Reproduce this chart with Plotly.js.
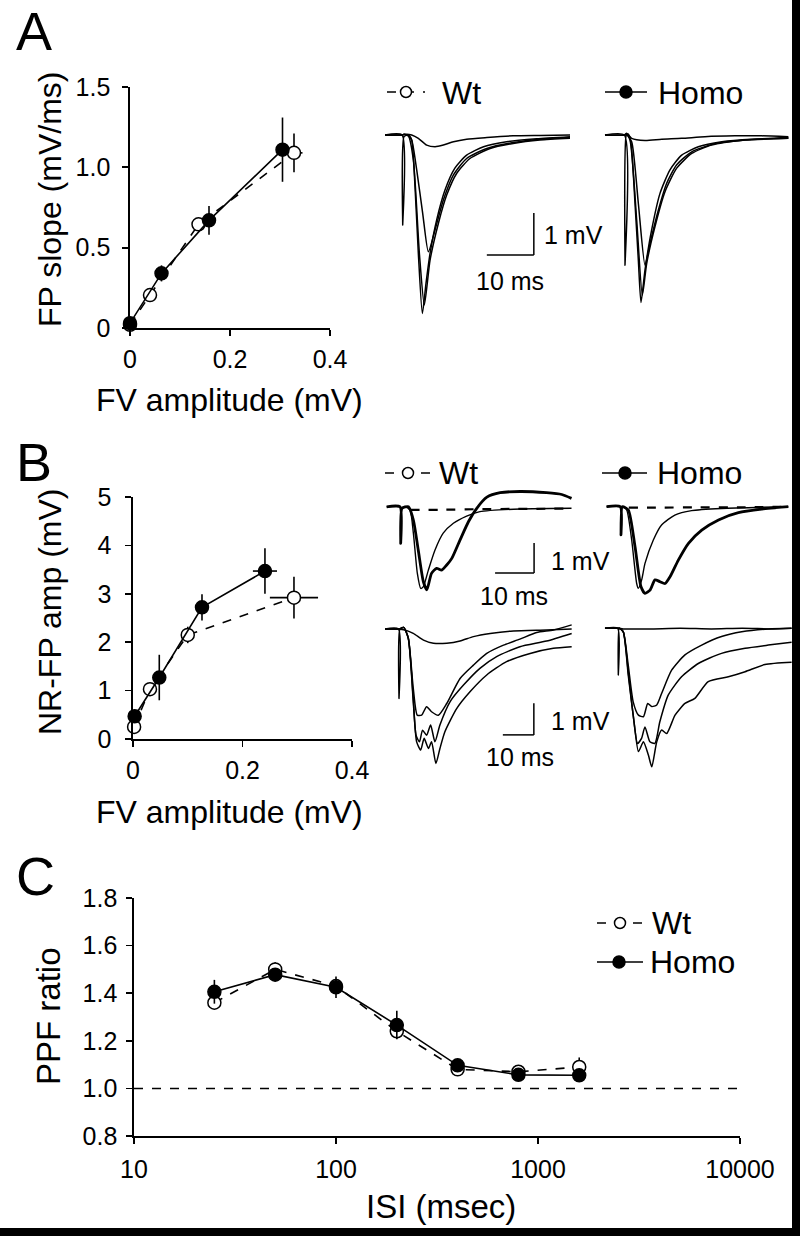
<!DOCTYPE html>
<html><head><meta charset="utf-8">
<script src="https://cdn.plot.ly/plotly-3.0.1.min.js"></script>
<style>html,body{margin:0;padding:0;background:#fff}#chart{width:800px;height:1236px}</style>
</head><body><div id="chart"></div>
<script>
// ---------------- DATA ----------------
// Panel A: FP slope vs FV amplitude
const aWtX = [0, 0.04, 0.137, 0.328];
const aWtY = [0.02, 0.205, 0.645, 1.09];
const aWtEx = [0, 0.005, 0.008, 0.017];
const aWtEy = [0, 0.02, 0.04, 0.12];
const aHoX = [0, 0.063, 0.158, 0.305];
const aHoY = [0.03, 0.34, 0.67, 1.11];
const aHoEx = [0.003, 0.008, 0.012, 0.01];
const aHoEy = [0.01, 0.05, 0.09, 0.2];

// Panel B: NR-FP amp vs FV amplitude
const bWtX = [0.002, 0.031, 0.1, 0.294];
const bWtY = [0.25, 1.03, 2.15, 2.92];
const bWtEx = [0.002, 0.004, 0.008, 0.044];
const bWtEy = [0.05, 0.12, 0.17, 0.43];
const bHoX = [0.003, 0.048, 0.126, 0.241];
const bHoY = [0.47, 1.27, 2.72, 3.47];
const bHoEx = [0.002, 0.006, 0.008, 0.022];
const bHoEy = [0.06, 0.47, 0.27, 0.47];

// Panel C: PPF ratio vs ISI
const isi = [25, 50, 100, 200, 400, 800, 1600];
const cWtY = [1.36, 1.50, 1.43, 1.24, 1.08, 1.07, 1.09];
const cWtE = [0.02, 0.03, 0.03, 0.03, 0.02, 0.02, 0.04];
const cHoY = [1.406, 1.478, 1.425, 1.266, 1.097, 1.057, 1.055];
const cHoE = [0.05, 0.02, 0.045, 0.06, 0.02, 0.02, 0.02];

// Sample traces (time in ms, voltage in mV)
// Panel A, Wt
const aWtBigT = [-3.76, -0.14, 0, 0.28, 1.21, 1.91, 2.62, 3.33, 4.18, 4.96, 5.82, 7.23, 9.0, 11.1, 13.6, 17.2, 22.1, 28.5, 35.6];
const aWtBigV = [0, 0, -2.14, -0.04, 0, -0.12, -1.23, -2.82, -4.25, -3.53, -2.82, -2.02, -1.31, -0.79, -0.48, -0.28, -0.16, -0.09, -0.04];
const aWtBig2T = [-3.76, -0.14, 0.3, 1.2, 2.27, 3.55, 4.6, 5.82, 7.6, 9.36, 11.5, 14.3, 18.6, 23.5, 29.2, 35.6];
const aWtBig2V = [0, 0, 0.02, -0.02, -0.6, -2.82, -4.05, -2.98, -2.1, -1.43, -0.91, -0.56, -0.32, -0.2, -0.12, -0.08];
const aWtMidT = [-3.76, -0.14, 0.3, 1.2, 1.91, 2.98, 4.26, 5.46, 6.88, 8.65, 10.8, 13.6, 17.9, 23.5, 29.2, 35.6];
const aWtMidV = [0, 0, 0.02, -0.02, -0.12, -0.83, -1.87, -2.78, -2.26, -1.55, -0.95, -0.56, -0.32, -0.18, -0.1, -0.06];
const aWtSmallT = [-3.76, -0.14, 0.85, 1.91, 3.33, 5.1, 6.88, 8.65, 10.8, 13.6, 17.9, 23.5, 29.2, 35.6];
const aWtSmallV = [0, 0, 0.02, 0, -0.08, -0.24, -0.28, -0.24, -0.16, -0.1, -0.06, -0.02, -0.01, 0];
// Panel A, Homo
const aHoBigT = [-4.26, -0.14, 0, 0.28, 0.71, 1.28, 2.13, 2.84, 3.4, 4.26, 5.67, 7.45, 9.57, 12.06, 15.6, 20.6, 26.95, 34.75];
const aHoBigV = [0, 0, -3.1, 0, 0.02, -0.2, -1.63, -2.98, -3.99, -3.21, -2.26, -1.39, -0.83, -0.48, -0.28, -0.16, -0.1, -0.08];
const aHoBig2T = [-4.26, -0.14, 0.3, 1.06, 2.48, 3.69, 4.61, 6.38, 8.51, 11.0, 14.2, 18.4, 25.5, 34.75];
const aHoBig2V = [0, 0, 0.02, -0.12, -2.02, -3.81, -3.06, -2.18, -1.35, -0.79, -0.44, -0.24, -0.12, -0.06];
const aHoMidT = [-4.26, -0.14, 0.3, 1.42, 2.84, 4.26, 5.32, 7.09, 8.87, 11.0, 14.2, 19.1, 25.5, 34.75];
const aHoMidV = [0, 0, 0.02, -0.16, -1.63, -3.1, -2.58, -1.79, -1.15, -0.71, -0.4, -0.21, -0.12, -0.08];
const aHoSmallT = [-4.26, -0.14, 0.35, 1.42, 4.26, 7.8, 12.06, 17.0, 23.4, 29.1, 34.75];
const aHoSmallV = [0, 0, 0.04, -0.08, -0.13, -0.1, -0.08, -0.04, -0.02, -0.02, -0.04];
// Panel B upper, Wt
const bWtThickT = [-3.6, -0.17, 0, 0.34, 2.0, 3.25, 4.5, 5.8, 6.7, 7.9, 9.2, 10.5, 11.8, 13.1, 15.2, 17.4, 19.5, 22.1, 25.5, 30.6, 37.4, 41.3, 43.8];
const bWtThickV = [0.05, 0.05, -1.17, 0, 0.05, -0.39, -1.39, -2.44, -2.72, -2.17, -2.0, -2.06, -1.89, -1.67, -1.06, -0.44, 0, 0.37, 0.52, 0.56, 0.52, 0.46, 0.33];
const bWtThinT = [-3.6, -0.17, 0.3, 1.1, 2.4, 3.25, 4.27, 5.13, 5.81, 7.09, 8.8, 10.9, 13.5, 16.9, 20.3, 28.9, 43.8];
const bWtThinV = [0.05, 0.05, 0, 0.06, -0.06, -0.83, -2.17, -2.67, -2.61, -2.06, -1.39, -0.83, -0.5, -0.26, -0.11, -0.03, 0];
const bWtApvT = [2.5, 10, 20, 30, 43.8];
const bWtApvV = [-0.05, -0.05, -0.03, -0.02, -0.01];
// Panel B upper, Homo
const bHoThinT = [-3.7, -0.17, 0, 0.34, 1.45, 2.74, 4.02, 4.44, 5.3, 6.15, 8.29, 10.4, 13.8, 18.1, 25.8, 42.9];
const bHoThinV = [0, 0, -0.94, 0, -0.11, -1.11, -2.56, -2.72, -2.44, -1.89, -1.11, -0.61, -0.28, -0.13, -0.06, 0];
const bHoThickT = [-3.7, -0.17, 0, 0.34, 1.88, 3.59, 5.13, 6.15, 7.44, 8.72, 10.0, 11.3, 12.6, 14.7, 17.3, 20.7, 25.0, 30.1, 36.1, 42.9];
const bHoThickV = [0, 0, -0.94, 0, -0.11, -1.33, -2.67, -2.89, -2.78, -2.44, -2.5, -2.56, -2.33, -1.78, -1.22, -0.78, -0.44, -0.2, -0.08, 0];
const bHoApvT = [2.0, 10, 20, 30, 42.9];
const bHoApvV = [-0.03, -0.03, -0.02, -0.02, 0];
// Panel B lower, Wt
const dWtSmallT = [-4.5, -0.2, 1.9, 4.6, 7.9, 11.1, 15.4, 19.7, 24.0, 29.4, 36.9, 47.6, 55.7];
const dWtSmallV = [0, 0, -0.03, -0.14, -0.35, -0.45, -0.45, -0.38, -0.24, -0.14, -0.06, -0.03, 0];
const dWt1T = [-4.5, -0.2, 0, 0.3, 1.5, 3.0, 4.6, 5.9, 7.3, 8.9, 10.5, 12.7, 15.4, 19.7, 24.0, 28.3, 33.7, 39.0, 44.4, 49.8, 55.7];
const dWt1V = [0, 0, -2.19, 0, 0.05, -0.29, -1.87, -2.72, -2.72, -2.45, -2.61, -2.72, -2.35, -1.56, -1.14, -0.77, -0.51, -0.32, -0.11, -0.03, 0.13];
const dWt2T = [-4.5, -0.2, 0.3, 1.5, 3.0, 4.6, 5.5, 6.6, 7.6, 8.9, 10.2, 11.6, 13.2, 16.5, 20.8, 26.1, 31.5, 39.0, 47.6, 55.7];
const dWt2V = [0, 0, 0, 0.05, -0.29, -2.19, -3.35, -3.56, -3.19, -3.35, -3.03, -3.56, -3.03, -2.29, -1.77, -1.24, -0.87, -0.56, -0.38, -0.14];
const dWt3T = [-4.5, -0.2, 0.3, 1.5, 3.0, 4.6, 5.7, 7.0, 8.1, 9.5, 10.5, 11.9, 13.2, 14.8, 18.6, 22.9, 28.3, 34.7, 42.3, 49.8, 55.7];
const dWt3V = [0, 0, 0, 0.05, -0.29, -2.29, -3.56, -3.82, -3.45, -3.77, -3.56, -4.24, -3.77, -3.24, -2.51, -1.98, -1.45, -1.03, -0.77, -0.61, -0.56];
// Panel B lower, Homo
const dHoSmallT = [-4.3, -0.2, 1.6, 10, 20, 30, 40, 50, 55.9];
const dHoSmallV = [0, 0, -0.02, -0.02, 0, -0.02, 0, -0.02, 0];
const dHo1T = [-4.3, -0.2, 0, 0.3, 1.6, 3.2, 4.8, 6.5, 8.1, 9.5, 10.8, 12.4, 14.0, 17.2, 21.5, 26.9, 33.3, 39.8, 48.4, 55.9];
const dHo1V = [0, 0, -1.47, 0, -0.11, -1.16, -2.32, -2.74, -2.79, -2.37, -2.47, -2.42, -2.05, -1.32, -0.84, -0.53, -0.26, -0.11, -0.02, 0];
const dHo2T = [-4.3, -0.2, 0.3, 1.6, 3.2, 4.8, 6.2, 7.5, 8.6, 10.2, 11.8, 13.4, 16.1, 20.4, 25.8, 33.3, 40.9, 48.4, 55.9];
const dHo2V = [0, 0, 0, -0.11, -1.37, -2.74, -3.63, -3.47, -3.11, -3.58, -3.63, -2.95, -2.11, -1.53, -1.11, -0.79, -0.63, -0.53, -0.44];
const dHo3T = [-4.3, -0.2, 0.3, 1.6, 3.2, 5.2, 6.5, 8.1, 9.7, 10.8, 12.4, 14.0, 15.6, 18.3, 21.5, 24.7, 29.0, 35.5, 40.9, 47.3, 55.9];
const dHo3V = [0, 0, 0, -0.11, -1.47, -3.05, -3.89, -3.58, -4.0, -4.37, -3.58, -3.21, -3.32, -2.74, -2.37, -2.21, -1.68, -1.53, -1.37, -1.14, -1.07];

// Scale bar sizes
const barMs = 10, barMv = 1;

// ---------------- LAYOUT HELPERS ----------------
const W = 800, H = 1236;
const FONT = 'Liberation Sans, Arial, Helvetica, sans-serif';
const px = x => x / W;
const py = y => 1 - y / H;

function sciAxis(p0, p1, range, tickvals, ticktext, isX, extra) {
  return Object.assign({
    domain: isX ? [px(p0), px(p1)] : [py(p1), py(p0)],
    range: range, tickvals: tickvals, ticktext: ticktext,
    showline: true, linewidth: 1.7, linecolor: '#000',
    ticks: 'outside', ticklen: 6, tickwidth: 1.7, tickcolor: '#000',
    showgrid: false, zeroline: false, fixedrange: true,
    tickfont: {family: FONT, size: 25, color: '#000'},
    ticklabelstandoff: 2
  }, extra || {});
}
// trace panel: pixel box, origin pixel (artifact, baseline), pixels per ms, pixels per mV
function tracePanel(x0, x1, y0, y1, ox, oy, pms, pmv) {
  return {
    x: {domain: [px(x0), px(x1)], range: [(x0 - ox) / pms, (x1 - ox) / pms], visible: false, fixedrange: true},
    y: {domain: [py(y1), py(y0)], range: [-(y1 - oy) / pmv, -(y0 - oy) / pmv], visible: false, fixedrange: true}
  };
}
const panels = [
  tracePanel(383, 580, 120, 322, 402.7, 135, 4.7, 42),     // A Wt   -> x4
  tracePanel(603, 792, 120, 322, 625, 135, 4.7, 42),       // A Homo -> x5
  tracePanel(383, 580, 484, 602, 400.7, 508.3, 3.9, 30),   // B up Wt -> x6
  tracePanel(603, 792, 484, 602, 621, 506.7, 3.9, 30),     // B up Homo -> x7
  tracePanel(383, 580, 618, 776, 399, 629, 3.1, 31.7),     // B low Wt -> x8
  tracePanel(603, 795, 618, 776, 618.3, 628.3, 3.1, 31.7)  // B low Homo -> x9
];

// ---------------- TRACES ----------------
const data = [];
function sci(x, y, ex, ey, filled, ax, size) {
  const t = {
    x: x, y: y, type: 'scatter', mode: 'lines+markers', xaxis: 'x' + ax, yaxis: 'y' + ax,
    cliponaxis: false, showlegend: false,
    line: {color: '#000', width: 1.6, dash: filled ? 'solid' : 'dash'},
    marker: {size: size, color: filled ? '#000' : '#fff', line: {color: '#000', width: 1.5}},
    error_y: {type: 'data', array: ey, visible: true, color: '#000', thickness: 1.6, width: 0}
  };
  if (ex) t.error_x = {type: 'data', array: ex, visible: true, color: '#000', thickness: 1.6, width: 0};
  return t;
}
data.push(sci(aWtX, aWtY, aWtEx, aWtEy, false, '', 13));
data.push(sci(aHoX, aHoY, aHoEx, aHoEy, true, '', 13));
data.push(sci(bWtX, bWtY, bWtEx, bWtEy, false, '2', 13));
data.push(sci(bHoX, bHoY, bHoEx, bHoEy, true, '2', 13));
data.push(sci(isi, cWtY, null, cWtE, false, '3', 13));
data.push(sci(isi, cHoY, null, cHoE, true, '3', 13));

function rec(t, v, ax, width, dash) {
  return {x: t, y: v, type: 'scatter', mode: 'lines', xaxis: 'x' + ax, yaxis: 'y' + ax,
    showlegend: false, hoverinfo: 'skip', cliponaxis: false,
    line: {color: '#000', width: width, dash: dash || 'solid', shape: 'spline', smoothing: 0.6}};
}
[[aWtSmallT, aWtSmallV], [aWtMidT, aWtMidV], [aWtBig2T, aWtBig2V], [aWtBigT, aWtBigV]]
  .forEach(p => data.push(rec(p[0], p[1], 4, 1.5)));
[[aHoSmallT, aHoSmallV], [aHoMidT, aHoMidV], [aHoBig2T, aHoBig2V], [aHoBigT, aHoBigV]]
  .forEach(p => data.push(rec(p[0], p[1], 5, 1.5)));
data.push(rec(bWtApvT, bWtApvV, 6, 2.2, 'dash'));
data.push(rec(bWtThinT, bWtThinV, 6, 1.4));
data.push(rec(bWtThickT, bWtThickV, 6, 2.8));
data.push(rec(bHoApvT, bHoApvV, 7, 2.2, 'dash'));
data.push(rec(bHoThinT, bHoThinV, 7, 1.4));
data.push(rec(bHoThickT, bHoThickV, 7, 2.8));
[[dWtSmallT, dWtSmallV], [dWt1T, dWt1V], [dWt2T, dWt2V], [dWt3T, dWt3V]]
  .forEach(p => data.push(rec(p[0], p[1], 8, 1.5)));
[[dHoSmallT, dHoSmallV], [dHo1T, dHo1V], [dHo2T, dHo2V], [dHo3T, dHo3V]]
  .forEach(p => data.push(rec(p[0], p[1], 9, 1.5)));

// ---------------- LAYOUT ----------------
const layout = {
  width: W, height: H, margin: {l: 0, r: 0, t: 0, b: 0},
  paper_bgcolor: '#fff', plot_bgcolor: 'rgba(0,0,0,0)',
  font: {family: FONT, color: '#000'},
  showlegend: false,
  xaxis: sciAxis(130, 330, [0, 0.4], [0, 0.2, 0.4], ['0', '0.2', '0.4'], true, {anchor: 'y'}),
  yaxis: sciAxis(87, 328, [0, 1.5], [0, 0.5, 1, 1.5], ['0', '0.5', '1.0', '1.5'], false, {anchor: 'x', ticklabelstandoff: 7}),
  xaxis2: sciAxis(133, 352, [0, 0.4], [0, 0.2, 0.4], ['0', '0.2', '0.4'], true, {anchor: 'y2'}),
  yaxis2: sciAxis(497, 739, [0, 5], [0, 1, 2, 3, 4, 5], ['0', '1', '2', '3', '4', '5'], false, {anchor: 'x2', ticklabelstandoff: 9}),
  xaxis3: sciAxis(134, 740, [1, 4], [10, 100, 1000, 10000], ['10', '100', '1000', '10000'], true, {anchor: 'y3', type: 'log', ticklabelstandoff: 4}),
  yaxis3: sciAxis(898, 1136, [0.8, 1.8], [0.8, 1.0, 1.2, 1.4, 1.6, 1.8], ['0.8', '1.0', '1.2', '1.4', '1.6', '1.8'], false, {anchor: 'x3', ticklabelstandoff: 4}),
  shapes: [], annotations: []
};
panels.forEach((p, i) => {
  const n = i + 4;
  layout['xaxis' + n] = Object.assign({anchor: 'y' + n}, p.x);
  layout['yaxis' + n] = Object.assign({anchor: 'x' + n}, p.y);
});

// dashed reference line at PPF ratio 1.0
layout.shapes.push({type: 'line', xref: 'x3 domain', yref: 'y3', x0: 0, x1: 1, y0: 1, y1: 1,
  line: {color: '#000', width: 1.5, dash: 'dash'}});

// scale bars (corner given in each panel's ms/mV coordinates)
const bars = [[4, 27.9, -2.86], [6, 34.2, -2.16], [8, 43.5, -3.34]];
bars.forEach(b => {
  const ax = b[0], cx = b[1], cy = b[2];
  layout.shapes.push({type: 'line', xref: 'x' + ax, yref: 'y' + ax, x0: cx, x1: cx, y0: cy, y1: cy + barMv, line: {color: '#000', width: 1.5}});
  layout.shapes.push({type: 'line', xref: 'x' + ax, yref: 'y' + ax, x0: cx - barMs, x1: cx, y0: cy, y1: cy, line: {color: '#000', width: 1.5}});
});

// legend glyphs
function glyph(x0, x1, cx, y, filled) {
  layout.shapes.push({type: 'line', xref: 'paper', yref: 'paper', x0: px(x0), x1: px(x1), y0: py(y), y1: py(y),
    line: {color: '#000', width: 1.5, dash: filled ? 'solid' : 'dash'}});
  const r = filled ? 6 : 5.5;
  layout.shapes.push({type: 'circle', xref: 'paper', yref: 'paper', x0: px(cx - r), x1: px(cx + r), y0: py(y + r), y1: py(y - r),
    fillcolor: filled ? '#000' : '#fff', line: {color: '#000', width: 1.5}});
}
glyph(387, 425, 406, 92, false); glyph(605, 647, 626, 92, true);
glyph(385, 430, 408, 473, false); glyph(602, 647, 625, 473, true);
glyph(597, 643, 620, 923, false); glyph(597, 643, 619, 962, true);

// black frame edges (right and bottom)
layout.shapes.push({type: 'rect', xref: 'paper', yref: 'paper', x0: px(792), x1: 1, y0: 0, y1: 1, fillcolor: '#000', line: {width: 0}});
layout.shapes.push({type: 'rect', xref: 'paper', yref: 'paper', x0: 0, x1: 1, y0: 0, y1: py(1228), fillcolor: '#000', line: {width: 0}});

function txt(text, x, y, size, opts) {
  layout.annotations.push(Object.assign({text: text, x: px(x), y: py(y), xref: 'paper', yref: 'paper',
    showarrow: false, xanchor: 'center', yanchor: 'middle', font: {family: FONT, size: size, color: '#000'}}, opts || {}));
}
// panel letters
txt('A', 34, 31, 54); txt('B', 34, 462, 54); txt('C', 35, 876, 54);
// axis titles
txt('FP slope (mV/ms)', 50, 200, 32, {textangle: -90});
txt('FV amplitude (mV)', 229, 400, 32);
txt('NR-FP amp (mV)', 50, 612, 32, {textangle: -90});
txt('FV amplitude (mV)', 229, 812, 32);
txt('PPF ratio', 48, 1016, 33, {textangle: -90});
txt('ISI (msec)', 441, 1206, 33);
// legend texts
txt('Wt', 440, 93, 32, {xanchor: 'left'}); txt('Homo', 656, 93, 32, {xanchor: 'left'});
txt('Wt', 437, 473, 32, {xanchor: 'left'}); txt('Homo', 655, 473, 32, {xanchor: 'left'});
txt('Wt', 650, 923, 32, {xanchor: 'left'}); txt('Homo', 648, 962, 32, {xanchor: 'left'});
// scale bar labels
txt('1 mV', 542, 235, 25, {xanchor: 'left'}); txt('10 ms', 510, 281, 25);
txt('1 mV', 549, 561, 25, {xanchor: 'left'}); txt('10 ms', 514, 596, 25);
txt('1 mV', 549, 721, 25, {xanchor: 'left'}); txt('10 ms', 520, 757, 25);

Plotly.newPlot('chart', data, layout, {staticPlot: true, displayModeBar: false});
</script></body></html>
